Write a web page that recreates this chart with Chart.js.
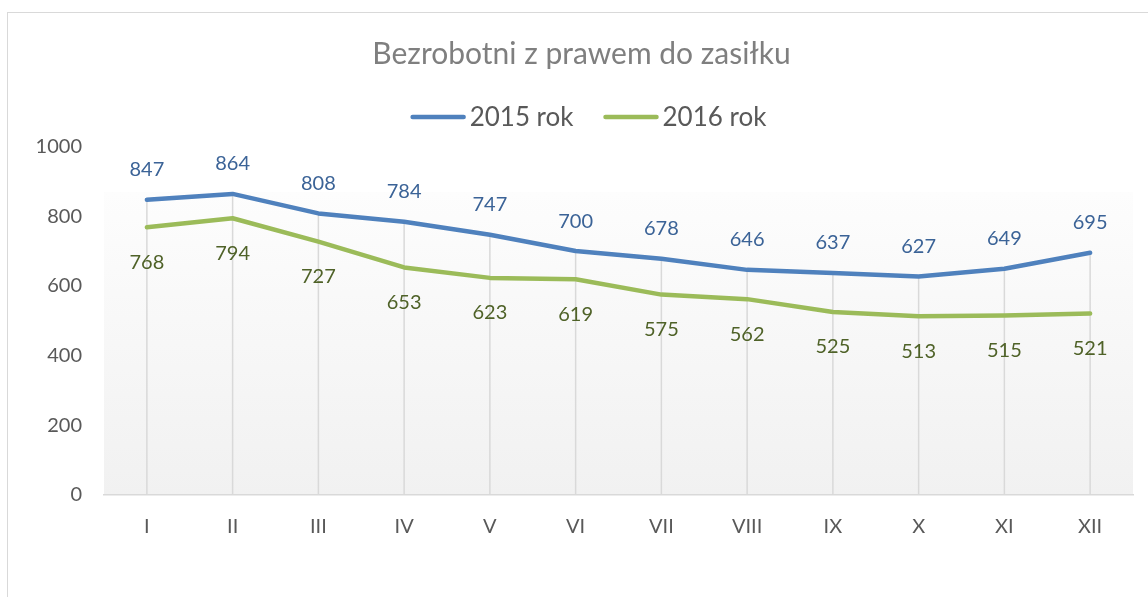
<!DOCTYPE html>
<html>
<head>
<meta charset="utf-8">
<script src="https://cdn.jsdelivr.net/npm/chart.js@4"></script>
<style>
  html, body { margin: 0; padding: 0; background: #fff; }
  #wrap { width: 1148px; height: 597px; position: relative; }
</style>
</head>
<body>
<div id="wrap"><canvas id="c" width="1148" height="597"></canvas></div>
<script>
const chartTitle = 'Bezrobotni z prawem do zasiłku';
const months = ['I', 'II', 'III', 'IV', 'V', 'VI', 'VII', 'VIII', 'IX', 'X', 'XI', 'XII'];
const seriesNames = ['2015 rok', '2016 rok'];
const values2015 = [847, 864, 808, 784, 747, 700, 678, 646, 637, 627, 649, 695];
const values2016 = [768, 794, 727, 653, 623, 619, 575, 562, 525, 513, 515, 521];
const yTicks = [0, 200, 400, 600, 800, 1000];

const FONT = 'Lato, "Open Sans", sans-serif';
const lineColors = ['#4f81bd', '#9bbb59'];
const labelColors = ['#3b6397', '#4f6228'];

const framePlugin = {
  id: 'frame',
  beforeDraw(chart) {
    const ctx = chart.ctx;
    ctx.save();
    ctx.strokeStyle = '#d9d9d9';
    ctx.lineWidth = 1;
    ctx.strokeRect(7.5, 12.5, 2000, 2000);
    const a = chart.chartArea;
    const top = a.top + (a.bottom - a.top) * 0.13;
    const g = ctx.createLinearGradient(0, top, 0, a.bottom);
    g.addColorStop(0, '#fdfdfd');
    g.addColorStop(1, '#f1f1f1');
    ctx.fillStyle = g;
    ctx.fillRect(a.left, top, a.right - a.left, a.bottom - top);
    ctx.restore();
  }
};

const dropLinesPlugin = {
  id: 'dropLines',
  beforeDatasetsDraw(chart) {
    const ctx = chart.ctx;
    const metas = chart.data.datasets.map((d, i) => chart.getDatasetMeta(i));
    const bottom = chart.chartArea.bottom;
    ctx.save();
    ctx.strokeStyle = '#d9d9d9';
    ctx.lineWidth = 1.5;
    months.forEach((m, i) => {
      let minY = Infinity, x = 0;
      metas.forEach(meta => {
        const p = meta.data[i];
        if (p.y < minY) { minY = p.y; x = p.x; }
      });
      ctx.beginPath();
      ctx.moveTo(x, minY);
      ctx.lineTo(x, bottom);
      ctx.stroke();
    });
    ctx.restore();
  }
};

const dataLabelsPlugin = {
  id: 'dataLabels',
  afterDatasetsDraw(chart) {
    const ctx = chart.ctx;
    ctx.save();
    ctx.font = '20px ' + FONT;
    ctx.textAlign = 'center';
    ctx.textBaseline = 'middle';
    chart.data.datasets.forEach((ds, di) => {
      const meta = chart.getDatasetMeta(di);
      ctx.fillStyle = labelColors[di];
      meta.data.forEach((p, i) => {
        const dy = di === 0 ? -30 : 35;
        ctx.fillText(String(ds.data[i]), p.x, p.y + dy);
      });
    });
    ctx.restore();
  }
};

const legendPlugin = {
  id: 'customLegend',
  afterDraw(chart) {
    const ctx = chart.ctx;
    ctx.save();
    ctx.font = '26px ' + FONT;
    ctx.textBaseline = 'middle';
    ctx.textAlign = 'left';
    const lineW = 55, gapText = 4, gapItem = 30, y = 117;
    const widths = chart.data.datasets.map(d => ctx.measureText(d.label).width);
    let total = 0;
    widths.forEach((w, i) => { total += lineW + gapText + w + (i ? gapItem : 0); });
    let x = 588.5 - total / 2;
    chart.data.datasets.forEach((d, i) => {
      ctx.strokeStyle = d.borderColor;
      ctx.lineWidth = 4.5;
      ctx.lineCap = 'round';
      ctx.beginPath();
      ctx.moveTo(x + 2, y);
      ctx.lineTo(x + lineW - 2, y);
      ctx.stroke();
      ctx.fillStyle = '#595959';
      ctx.fillText(d.label, x + lineW + gapText, y + 1);
      x += lineW + gapText + widths[i] + gapItem;
    });
    ctx.restore();
  }
};

new Chart(document.getElementById('c'), {
  type: 'line',
  data: {
    labels: months,
    datasets: [
      { label: seriesNames[0], data: values2015, borderColor: lineColors[0], backgroundColor: lineColors[0],
        borderWidth: 4.5, pointRadius: 0, tension: 0, borderCapStyle: 'round', borderJoinStyle: 'round' },
      { label: seriesNames[1], data: values2016, borderColor: lineColors[1], backgroundColor: lineColors[1],
        borderWidth: 4.5, pointRadius: 0, tension: 0, borderCapStyle: 'round', borderJoinStyle: 'round' }
    ]
  },
  options: {
    responsive: false,
    animation: false,
    devicePixelRatio: 1,
    layout: { padding: { left: 30, right: 15, top: 0, bottom: 0 } },
    plugins: {
      legend: { display: false },
      tooltip: { enabled: false },
      title: {
        display: true,
        text: chartTitle,
        color: '#7f7f7f',
        font: { family: FONT, size: 30, weight: 'normal', lineHeight: 1.2 },
        padding: { top: 36, bottom: 74.5 }
      }
    },
    scales: {
      x: {
        offset: true,
        grid: { display: false, drawTicks: false },
        border: { display: true, color: '#d9d9d9', width: 1.5 },
        ticks: { color: '#595959', font: { family: FONT, size: 20 }, padding: 20, maxRotation: 0, autoSkip: false },
        afterFit(scale) { scale.height = 102; }
      },
      y: {
        min: 0, max: 1000,
        afterBuildTicks(scale) { scale.ticks = yTicks.map(v => ({ value: v })); },
        grid: { display: false, drawTicks: false },
        border: { display: false },
        ticks: { color: '#595959', font: { family: FONT, size: 20 }, padding: 22, callback: v => String(v) },
        afterFit(scale) { scale.width = 74; }
      }
    }
  },
  plugins: [framePlugin, dropLinesPlugin, dataLabelsPlugin, legendPlugin]
});
</script>
</body>
</html>
